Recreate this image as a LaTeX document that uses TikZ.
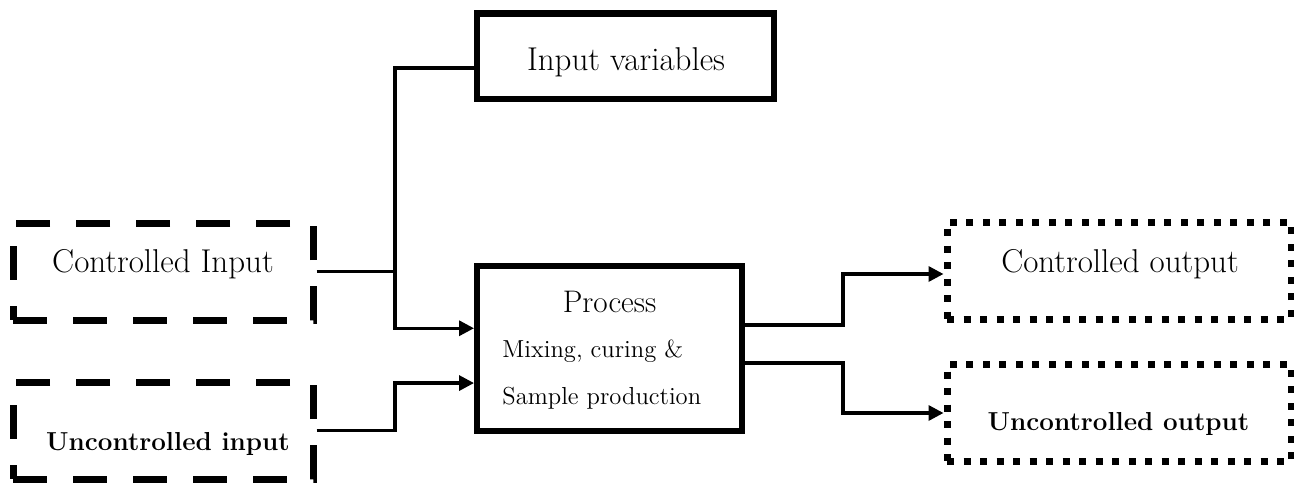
\documentclass[tikz,border=0pt]{standalone}
\usepackage{fontspec}
\usetikzlibrary{arrows.meta,positioning}

\tikzset{
  solidbox/.style={draw, inner sep=0pt, line width=3.2pt},
  dashbox/.style={draw, inner sep=0pt, line width=3.5pt, dash pattern=on 17pt off 13pt, minimum width=150pt, minimum height=48.5pt},
  dotbox/.style={draw, inner sep=0pt, line width=3.5pt, dash pattern=on 3.5pt off 4.75pt, minimum width=172pt, minimum height=48.5pt},
  conn/.style={line width=1.65pt},
  flow/.style={conn, -{Triangle[length=7.5pt,width=7.5pt]}},
  lbl/.style={anchor=base, inner sep=0pt, font=\fontsize{16.5}{19}\selectfont},
  boldlbl/.style={anchor=base, inner sep=0pt, font=\fontsize{13}{15}\selectfont\bfseries},
  smalllbl/.style={anchor=base west, inner sep=0pt, font=\fontsize{12.3}{14}\selectfont}
}

\begin{document}
\begin{tikzpicture}[x=0.5pt, y=-0.5pt]
  \useasboundingbox (0,0) rectangle (1294,482);

  % boxes
  \node[solidbox, minimum width=148.5pt, minimum height=42.75pt] (invar) at (625.5,56.25) {};
  \node[solidbox, line width=3pt, minimum width=132.5pt, minimum height=82.25pt] (proc) at (609.5,348.25) {};
  \node[dashbox] (ctlin) at (163,271.5) {};
  \node[dashbox] (unin) at (163,430.5) {};
  \node[dotbox] (ctlout) at (1119,270.5) {};
  \node[dotbox] (unout) at (1119,413) {};

  % texts
  \node[lbl] (invartxt) at (626,70) {Input variables};
  \node[lbl] (ctlintxt) at (163,272) {Controlled Input};
  \node[boldlbl] (unintxt) at (168,450) {Uncontrolled input};
  \node[lbl, font=\fontsize{15.6}{18}\selectfont] (proctxt) at (609.5,312) {Process};
  \node[smalllbl] (mixtxt) at (502,357) {Mixing, curing \&};
  \node[smalllbl] (samptxt) at (502,404) {Sample production};
  \node[lbl] (ctlouttxt) at (1120,272) {Controlled output};
  \node[boldlbl] (unouttxt) at (1118.5,430) {Uncontrolled output};

  % junctions
  \coordinate (insplit) at (395,271.5);
  \coordinate (outsplit) at (843,0);

  % input side
  \draw[conn] ([yshift=-5.9pt]invar.west) -| (insplit);
  \draw[conn] (ctlin.east) -- (insplit);
  \draw[flow] (insplit) |- ([yshift=10pt]proc.west);
  \draw[flow] (unin.east) -- (unin.east -| insplit) |- ([yshift=-17.4pt]proc.west);

  % output side
  \draw[flow] ([yshift=11.6pt]proc.east) -- ([yshift=11.6pt]proc.east -| outsplit) |- ([yshift=-1.75pt]ctlout.west);
  \draw[flow] ([yshift=-7.4pt]proc.east) -- ([yshift=-7.4pt]proc.east -| outsplit) |- (unout.west);
\end{tikzpicture}
\end{document}
